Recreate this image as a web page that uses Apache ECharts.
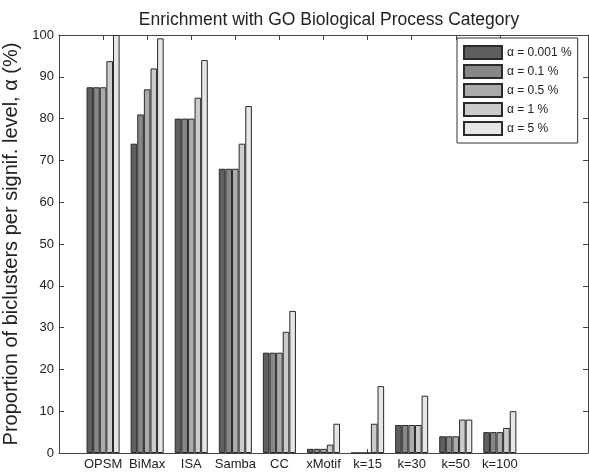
<!DOCTYPE html>
<html>
<head>
<meta charset="utf-8">
<script src="https://cdn.jsdelivr.net/npm/echarts@6/dist/echarts.min.js"></script>
<style>html,body{margin:0;padding:0;background:#fff}#c{width:589px;height:472px}</style>
</head>
<body>
<div id="c"></div>
<script>
const categories = ['OPSM','BiMax','ISA','Samba','CC','xMotif','k=15','k=30','k=50','k=100'];
const seriesNames = ['α = 0.001 %','α = 0.1 %','α = 0.5 %','α = 1 %','α = 5 %'];
const a0001 = [87.5, 74, 80, 68, 24, 1, 0, 6.7, 4, 5];
const a01   = [87.5, 81, 80, 68, 24, 1, 0, 6.7, 4, 5];
const a05   = [87.5, 87, 80, 68, 24, 1, 0, 6.7, 4, 5];
const a1    = [93.75, 92, 85, 74, 29, 2, 7, 6.7, 8, 6];
const a5    = [100, 99.2, 94, 83, 34, 7, 16, 13.7, 8, 10];
const yTicks = [0,10,20,30,40,50,60,70,80,90,100];
const colors = ['#5f5f5f','#878787','#ababab','#cbcbcb','#e6e6e6'];

const allSeries = [a0001, a01, a05, a1, a5];
const positions = categories.map((c, i) => i + 1);
const FONT = '"Liberation Sans", Arial, sans-serif';
const axisColor = '#444';

const chart = echarts.init(document.getElementById('c'));
chart.setOption({
  animation: false,
  textStyle: { fontFamily: FONT },
  title: {
    text: 'Enrichment with GO Biological Process Category',
    left: 324, top: 6, textAlign: 'center',
    textStyle: { fontFamily: FONT, fontSize: 17.5, fontWeight: 'normal', color: '#222' }
  },
  grid: { left: 59, right: 1, top: 35, bottom: 19, containLabel: false, outerBoundsMode: 'none' },
  legend: {
    orient: 'vertical', left: 457, top: 38,
    itemWidth: 38, itemHeight: 13, itemGap: 4,
    padding: [7, 6, 7, 6],
    borderColor: '#333', borderWidth: 1, backgroundColor: '#fff',
    textStyle: { fontFamily: FONT, fontSize: 12, lineHeight: 13, color: '#222' },
    data: seriesNames.map(n => ({ name: n, icon: 'rect' }))
  },
  xAxis: [
    {
      type: 'value', min: 0, max: 12, interval: 1, position: 'bottom',
      axisLine: { show: true, onZero: false, lineStyle: { color: axisColor, width: 1 } },
      axisTick: { show: true, inside: true, length: 4, customValues: positions, lineStyle: { color: axisColor } },
      axisLabel: {
        show: true, margin: 5, customValues: positions,
        formatter: v => categories[v - 1] || '',
        fontFamily: FONT, fontSize: 13, color: '#222'
      },
      splitLine: { show: false }
    },
    {
      type: 'value', min: 0, max: 12, interval: 1, position: 'top',
      axisLine: { show: true, onZero: false, lineStyle: { color: axisColor, width: 1 } },
      axisTick: { show: true, inside: true, length: 5, customValues: positions, lineStyle: { color: axisColor } },
      axisLabel: { show: false },
      splitLine: { show: false }
    }
  ],
  yAxis: [
    {
      type: 'value', min: 0, max: 100, interval: 10, position: 'left',
      name: 'Proportion of biclusters per signif. level, α (%)',
      nameLocation: 'middle', nameGap: 31,
      nameTextStyle: { fontFamily: FONT, fontSize: 20, color: '#222' },
      axisLine: { show: true, onZero: false, lineStyle: { color: axisColor, width: 1 } },
      axisTick: { show: true, inside: true, length: 5, lineStyle: { color: axisColor } },
      axisLabel: { margin: 5, fontFamily: FONT, fontSize: 13, color: '#222',
        customValues: yTicks },
      splitLine: { show: false }
    },
    {
      type: 'value', min: 0, max: 100, interval: 10, position: 'right',
      axisLine: { show: true, onZero: false, lineStyle: { color: axisColor, width: 1 } },
      axisTick: { show: true, inside: true, length: 5, lineStyle: { color: axisColor } },
      axisLabel: { show: false },
      splitLine: { show: false }
    }
  ],
  series: allSeries.map((arr, si) => ({
    name: seriesNames[si],
    type: 'bar',
    xAxisIndex: 0, yAxisIndex: 0,
    barGap: '0%', barCategoryGap: '25%',
    itemStyle: { color: colors[si], borderColor: '#2a2a2a', borderWidth: 1 },
    data: arr.map((v, i) => [positions[i], v])
  }))
});
</script>
</body>
</html>
